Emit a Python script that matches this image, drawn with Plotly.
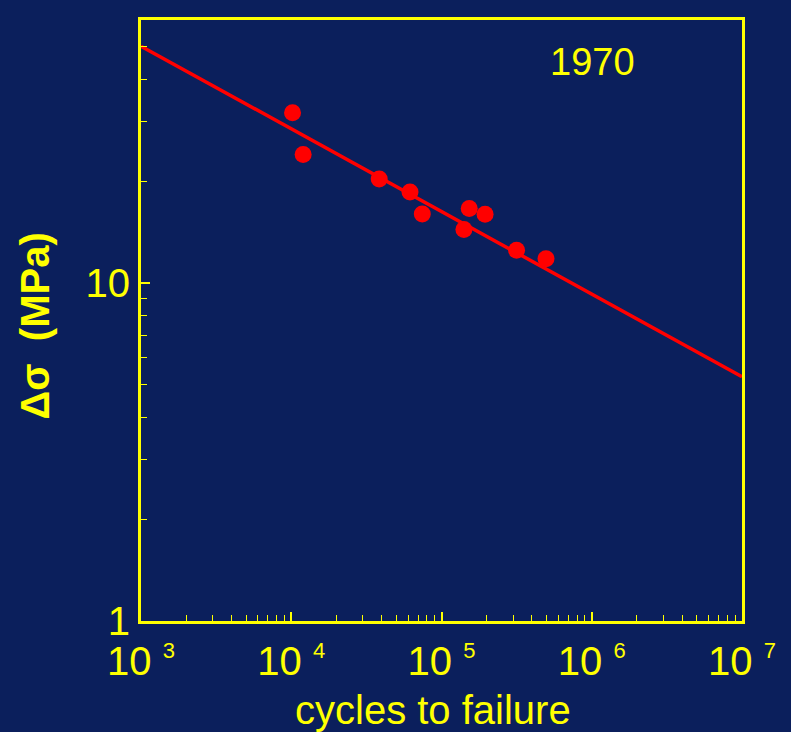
import plotly.graph_objects as go
import math

# Data
cycles = [10200, 12000, 38500, 61700, 74500, 153000, 195000, 141000, 316000, 496000]
stress = [31.9, 24.0, 20.3, 18.6, 16.0, 16.6, 15.97, 14.4, 12.5, 11.8]
fit_cycles = [1e3, 1e7]
fit_stress = [50.2, 5.28]

x_tick_vals = [1e3, 1e4, 1e5, 1e6, 1e7]
x_tick_exps = ["3", "4", "5", "6", "7"]
y_tick_vals = [1, 10, 60]
y_tick_text = ["1", "10", "60"]

BG = "#0b1f5c"
YEL = "#ffff00"
RED = "#ff0000"
FONT = "Arial, Liberation Sans, sans-serif"

x_minor = [m * 10 ** e for e in range(3, 7) for m in range(2, 10)]
y_minor = [m for m in range(2, 10)] + [20, 30, 40, 50]

fig = go.Figure()
fig.add_trace(go.Scatter(x=fit_cycles, y=fit_stress, mode="lines",
                         line=dict(color=RED, width=3.5), showlegend=False,
                         hoverinfo="skip"))
fig.add_trace(go.Scatter(x=cycles, y=stress, mode="markers",
                         marker=dict(color=RED, size=17, line=dict(width=0)),
                         showlegend=False))

fig.update_layout(
    width=791, height=732,
    paper_bgcolor=BG, plot_bgcolor=BG,
    margin=dict(l=141, r=49, t=20, b=111),
    font=dict(family=FONT, color=YEL, size=40),
    xaxis=dict(type="log", range=[3, 7], showgrid=False, zeroline=False,
               showline=True, linecolor=YEL, linewidth=3, mirror=True,
               ticks="inside", ticklen=9, tickwidth=1.5, tickcolor=YEL,
               tickmode="array", tickvals=x_tick_vals,
               ticktext=["10 <sup><span style='font-size:22px'>%s</span></sup>" % e
                         for e in x_tick_exps],
               tickfont=dict(family=FONT, size=40, color=YEL),
               ticklabelstandoff=3,
               minor=dict(ticks="inside", ticklen=6, tickwidth=1.2,
                          tickcolor=YEL, tickmode="array", tickvals=x_minor,
                          showgrid=False)),
    yaxis=dict(type="log", range=[0, math.log10(60)], showgrid=False,
               zeroline=False, showline=True, linecolor=YEL, linewidth=3,
               mirror=True, ticks="inside", ticklen=9, tickwidth=1.5,
               tickcolor=YEL, tickmode="array", tickvals=y_tick_vals,
               ticktext=y_tick_text,
               tickfont=dict(family=FONT, size=40, color=YEL),
               minor=dict(ticks="inside", ticklen=6, tickwidth=1.2,
                          tickcolor=YEL, tickmode="array", tickvals=y_minor,
                          showgrid=False)),
    annotations=[
        dict(text="cycles to failure", xref="paper", yref="paper",
             x=0.5, y=0, xanchor="center", yanchor="middle",
             xshift=-9, yshift=-89, showarrow=False,
             font=dict(family=FONT, size=40, color=YEL)),
        dict(text="<b>Δσ  (MPa)</b>", xref="paper", yref="paper",
             x=0, y=0.5, xanchor="center", yanchor="middle", textangle=-90,
             xshift=-107, yshift=-6, showarrow=False,
             font=dict(family=FONT, size=40, color=YEL)),
        dict(text="1970", xref="paper", yref="paper",
             x=0.752, y=0.930, xanchor="center", yanchor="middle",
             showarrow=False, font=dict(family=FONT, size=38, color=YEL)),
    ],
)

fig.write_html("out.html")
